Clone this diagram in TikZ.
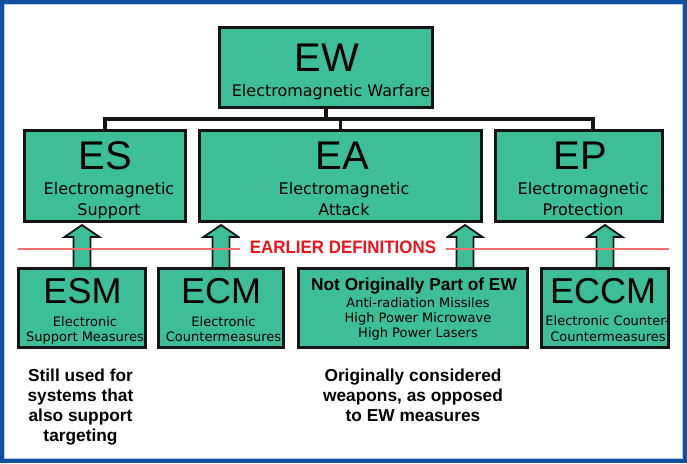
\documentclass[tikz,border=0pt]{standalone}
\usepackage{fontspec}
\usepackage{graphicx}
\setmainfont{DejaVu Sans}
\newfontfamily\arialf{Liberation Sans}
\usetikzlibrary{calc}
\definecolor{boxgreen}{RGB}{61,190,150}
\definecolor{boxline}{RGB}{20,20,20}
\definecolor{frameblue}{RGB}{16,80,158}
\definecolor{framelight}{RGB}{175,205,232}
\definecolor{defred}{RGB}{232,20,30}
\definecolor{linered}{RGB}{240,110,110}
\pgfdeclarelayer{bg}
\pgfdeclarelayer{frame}
\pgfsetlayers{frame,bg,main}
\newcommand{\blockarrow}[2]{%
  \path[upblock] ($(#1)+(-8.5,0)$) -- ($(#1 |- #2.south)+(-8.5,15.5)$)
    -- ($(#1 |- #2.south)+(-17.5,15.5)$) -- ($(#1 |- #2.south)+(0,3.5)$)
    -- ($(#1 |- #2.south)+(17.5,15.5)$) -- ($(#1 |- #2.south)+(8.5,15.5)$)
    -- ($(#1)+(8.5,0)$) -- cycle;}
\begin{document}
\begin{tikzpicture}[x=1pt,y=-1pt,
  box/.style={rectangle, draw=boxline, fill=boxgreen, line width=3pt, inner sep=0pt, outer sep=0pt},
  bigtxt/.style={font=\arialf\fontsize{40}{40}\selectfont, anchor=base, inner sep=0pt},
  midbig/.style={font=\arialf\fontsize{36}{36}\selectfont, anchor=base, inner sep=0pt},
  subtxt/.style={font=\fontsize{16}{20}\selectfont, anchor=base, inner sep=0pt},
  smalltxt/.style={font=\fontsize{13}{15}\selectfont, anchor=base, inner sep=0pt},
  boldtxt/.style={font=\arialf\bfseries\fontsize{17.3}{20}\selectfont, anchor=base, inner sep=0pt},
  tree/.style={draw=boxline, line width=3.5pt, line join=miter},
  upblock/.style={draw=boxline, fill=boxgreen, line width=1.8pt, line join=miter},
]
\useasboundingbox (0,0) rectangle (687,463);
% frame
\begin{pgfonlayer}{frame}
\fill[frameblue] (0,0) rectangle (687,463);
\fill[white] (4,4) rectangle (683,459);
\draw[framelight, line width=1pt] (4.5,4.5) rectangle (682.5,458.5);
\end{pgfonlayer}

% boxes
\node[box, minimum width=213pt, minimum height=80pt] (EW) at (326,67.5) {};
\node[box, minimum width=161pt, minimum height=91pt] (ES) at (105,176) {};
\node[box, minimum width=282pt, minimum height=91pt] (EA) at (340.5,176) {};
\node[box, minimum width=167pt, minimum height=91pt] (EP) at (579,176) {};
\node[box, minimum width=127pt, minimum height=79pt] (ESM) at (82,308) {};
\node[box, minimum width=125pt, minimum height=79pt] (ECM) at (221,308) {};
\node[box, minimum width=229pt, minimum height=79pt] (NO) at (413,308) {};
\node[box, minimum width=127pt, minimum height=79pt] (ECCM) at (605,308) {};

% tree connectors
\coordinate (barL) at (105,119);
\coordinate (barR) at (593,119);
\begin{pgfonlayer}{bg}
\draw[tree] (ES.north) -- (barL) -- (barR) -- (barR |- EP.north);
\draw[tree] (EW.south) -- (EW.south |- barL);
\draw[tree] (EA.north) -- (EA.north |- barL);
% block arrows
\coordinate (ar1) at (ESM.north);
\coordinate (ar2) at (ECM.north);
\coordinate (ar3) at ($(NO.north)+(52,0)$);
\coordinate (ar4) at (ECCM.north);
\blockarrow{ar1}{ES}
\blockarrow{ar2}{EA}
\blockarrow{ar3}{EA}
\blockarrow{ar4}{EP}
\end{pgfonlayer}

% red line and label
\coordinate (rl) at (18,249);
\coordinate (rr) at (669,249);
\draw[linered, line width=1.2pt] (rl) -- (rr);
\node[fill=white, inner xsep=10pt, inner ysep=3pt, anchor=base, text=defred,
      font=\arialf\bfseries\fontsize{18}{18}\selectfont] (earlier) at (343,253)
      {\scalebox{0.94}[1]{EARLIER DEFINITIONS}};

% texts
\node[bigtxt] (ewa) at (327,71) {EW};
\node[subtxt] (ewb) at (331,96) {Electromagnetic Warfare};

\node[bigtxt] (esa) at (105,169) {ES};
\node[subtxt] (esb) at (109,194) {Electromagnetic};
\node[subtxt] (esc) at (109,215) {Support};

\node[bigtxt] (eaa) at (342,169) {EA};
\node[subtxt] (eab) at (344,194) {Electromagnetic};
\node[subtxt] (eac) at (344,215) {Attack};

\node[bigtxt] (epa) at (580,169) {EP};
\node[subtxt] (epb) at (583,194) {Electromagnetic};
\node[subtxt] (epc) at (583,215) {Protection};

\node[midbig] (esma) at (82.5,303) {ESM};
\node[smalltxt] (esmb) at (85,326) {Electronic};
\node[smalltxt] (esmc) at (85,341) {Support Measures};

\node[midbig] (ecma) at (221,303) {ECM};
\node[smalltxt] (ecmb) at (223.5,326) {Electronic};
\node[smalltxt] (ecmc) at (223.5,341) {Countermeasures};

\node[boldtxt] (noa) at (414,290) {Not Originally Part of EW};
\node[smalltxt] (nob) at (418,307) {Anti-radiation Missiles};
\node[smalltxt] (noc) at (418,322) {High Power Microwave};
\node[smalltxt] (nod) at (418,337) {High Power Lasers};

\node[midbig] (eccma) at (603,303) {ECCM};
\node[smalltxt] (eccmb) at (607.5,325) {Electronic Counter-};
\node[smalltxt] (eccmc) at (608,341) {Countermeasures};

% captions
\node[boldtxt] (ca1) at (80.5,381) {Still used for};
\node[boldtxt] (ca2) at (80.5,401) {systems that};
\node[boldtxt] (ca3) at (80.5,421) {also support};
\node[boldtxt] (ca4) at (80.5,441) {targeting};

\node[boldtxt] (cb1) at (413,381) {Originally considered};
\node[boldtxt] (cb2) at (413,401) {weapons, as opposed};
\node[boldtxt] (cb3) at (413,421) {to EW measures};
\end{tikzpicture}
\end{document}
